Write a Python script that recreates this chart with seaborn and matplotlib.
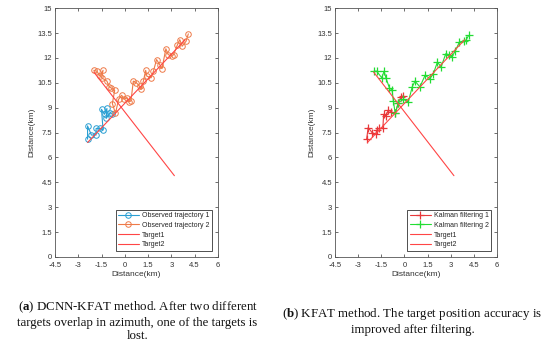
import matplotlib
matplotlib.use("Agg")
import matplotlib.pyplot as plt
import seaborn as sns

# Target tracks (start / end)
target1_x = [-2.4, 3.9]
target1_y = [6.9, 13.1]
target2_x = [-2.0, 3.2]
target2_y = [11.15, 4.9]

# (a) observed trajectories
obs1_x = [-2.4, -2.4, -2.15, -1.85, -1.85, -1.6, -1.4, -1.5, -1.3, -1.15, -1.2, -0.95, -0.8]
obs1_y = [7.1, 7.9, 7.35, 7.35, 7.75, 7.75, 7.65, 8.9, 8.6, 8.95, 8.35, 8.7, 8.6]

obs2_x = [-2.0, -1.8, -1.6, -1.4, -1.5, -1.15, -1.0, -0.9, -0.65, -0.8, -0.6, -0.4, -0.2,
          -0.05, 0.15, 0.25, 0.4, 0.55, 0.75, 0.95, 1.05, 1.2, 1.35, 1.42, 1.7, 1.85,
          2.05, 2.25, 2.4, 2.65, 2.8, 3.05, 3.15, 3.4, 3.55, 3.7, 3.95, 4.1]
obs2_y = [11.25, 11.2, 10.9, 11.25, 10.8, 10.6, 10.25, 10.2, 10.05, 9.25, 8.65, 9.5, 9.75,
          9.5, 9.6, 9.35, 9.4, 10.6, 10.5, 10.3, 10.1, 10.6, 11.25, 10.9, 10.8, 11.2,
          11.9, 11.6, 11.35, 12.55, 12.2, 12.1, 12.2, 12.8, 13.1, 12.7, 13.0, 13.45]

# (b) Kalman filtering
kf1_x = [-2.45, -2.35, -2.1, -1.85, -1.8, -1.65, -1.4, -1.35, -1.2, -1.05, -0.85, -0.6,
         -0.4, -0.22, -0.1]
kf1_y = [7.1, 7.8, 7.5, 7.4, 7.65, 7.75, 7.75, 8.6, 8.5, 8.85, 8.75, 8.65, 9.3, 9.65, 9.7]

kf2_x = [-1.95, -1.8, -1.47, -1.32, -1.2, -0.98, -0.8, -0.72, -0.6, -0.4, -0.07, 0.25,
         0.5, 0.68, 1.0, 1.33, 1.65, 1.87, 2.13, 2.37, 2.67, 2.85, 3.05, 3.28, 3.55,
         3.82, 3.97, 4.15]
kf2_y = [11.2, 11.2, 10.8, 11.2, 10.8, 10.2, 10.05, 9.4, 8.65, 9.3, 9.5, 9.35,
         10.25, 10.6, 10.25, 10.95, 10.75, 11.05, 11.75, 11.45, 12.25, 12.2, 12.05, 12.4, 12.95,
         13.0, 13.05, 13.35]

xticks = [-4.5, -3, -1.5, 0, 1.5, 3, 4.5, 6]
yticks = [0, 1.5, 3, 4.5, 6, 7.5, 9, 10.5, 12, 13.5, 15]

caption_a = "($\\mathbf{a}$) DCNN-KFAT method. After two different\ntargets overlap in azimuth, one of the targets is\nlost."
caption_b = "($\\mathbf{b}$) KFAT method. The target position accuracy is\nimproved after filtering."

sns.set_theme(style="ticks")
plt.rcParams['font.family'] = ['Liberation Sans', 'DejaVu Sans']
plt.rcParams['mathtext.fontset'] = 'custom'
plt.rcParams['mathtext.rm'] = 'Liberation Serif'
plt.rcParams['mathtext.bf'] = 'Liberation Serif:bold'

fig = plt.figure(figsize=(5.5, 3.53), dpi=100)
ax1 = fig.add_axes([0.1, 0.272, 0.296, 0.705])
ax2 = fig.add_axes([0.609, 0.272, 0.295, 0.705])

red = '#ff4545'

sns.lineplot(x=obs1_x, y=obs1_y, sort=False, estimator=None, ax=ax1, color='#2a9fd3',
             marker='o', markersize=4, markerfacecolor='none', markeredgecolor='#2a9fd3',
             markeredgewidth=0.7, linewidth=0.8, label='Observed trajectory 1')
sns.lineplot(x=obs2_x, y=obs2_y, sort=False, estimator=None, ax=ax1, color='#ee7a48',
             marker='o', markersize=4, markerfacecolor='none', markeredgecolor='#ee7a48',
             markeredgewidth=0.7, linewidth=0.8, label='Observed trajectory 2')

sns.lineplot(x=kf1_x, y=kf1_y, sort=False, estimator=None, ax=ax2, color='#e8383a',
             marker='+', markersize=6, markeredgecolor='#e8383a', markeredgewidth=0.9,
             linewidth=0.8, label='Kalman filtering 1')
sns.lineplot(x=kf2_x, y=kf2_y, sort=False, estimator=None, ax=ax2, color='#22dd33',
             marker='+', markersize=6, markeredgecolor='#22dd33', markeredgewidth=0.9,
             linewidth=0.8, label='Kalman filtering 2')

for ax in (ax1, ax2):
    sns.lineplot(x=target1_x, y=target1_y, sort=False, estimator=None, ax=ax,
                 color=red, linewidth=0.8, label='Target1')
    sns.lineplot(x=target2_x, y=target2_y, sort=False, estimator=None, ax=ax,
                 color=red, linewidth=0.8, label='Target2')
    ax.set_xlim(-4.5, 6)
    ax.set_ylim(0, 15)
    ax.set_xticks(xticks)
    ax.set_xticklabels([f"{t:g}" for t in xticks])
    ax.set_yticks(yticks)
    ax.set_yticklabels([f"{t:g}" for t in yticks])
    ax.tick_params(direction='in', top=True, right=True, length=2.5, width=0.5,
                   labelsize=5.5, colors='#333333')
    ax.tick_params(axis='x', pad=3.5)
    ax.tick_params(axis='y', pad=2)
    for s in ax.spines.values():
        s.set_linewidth(0.6)
        s.set_color('#555555')
    ax.set_xlabel('Distance(km)', fontsize=6, labelpad=1.5, color='#333333')
    ax.set_ylabel('Distance(km)', fontsize=6, labelpad=1.5, color='#333333')
    ax.legend(loc='lower right', fontsize=5, frameon=True, fancybox=False,
              edgecolor='#333333', framealpha=1, borderpad=0.35, labelspacing=0.4,
              handlelength=3.0, handletextpad=0.4, borderaxespad=0.9)
    ax.get_legend().get_frame().set_linewidth(0.6)

fig.text(0.25, 0.091, caption_a, ha='center', va='center', multialignment='center',
         fontsize=9.3, family='Liberation Serif', color='#111111', linespacing=1.2)
fig.text(0.75, 0.091, caption_b, ha='center', va='center', multialignment='center',
         fontsize=9.3, family='Liberation Serif', color='#111111', linespacing=1.2)

fig.savefig('out.png', dpi=100)
